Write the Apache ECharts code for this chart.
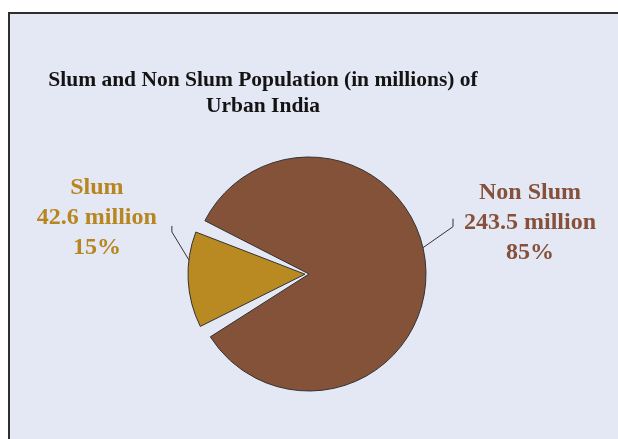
<!DOCTYPE html>
<html>
<head>
<meta charset="utf-8">
<script src="https://cdn.jsdelivr.net/npm/echarts@6/dist/echarts.min.js"></script>
<style>
html, body { margin: 0; padding: 0; background: #ffffff; }
#chart { width: 618px; height: 439px; }
</style>
</head>
<body>
<div id="chart"></div>
<script>
// data
const categories = ['Slum', 'Non Slum'];
const populations = [42.6, 243.5];
const sliceColors = ['#ba8a22', '#835238'];
const labelColors = ['#b8861e', '#86503a'];
const titleText = 'Slum and Non Slum Population (in millions) of\nUrban India';

const pieCenter = [309, 274];
const pieRadius = 117;
const startAngle = 209.5;
const explode = 4; // the Slum slice is pulled out a little

// leader line: start angle on the rim, first bend, short vertical tick, then text offset
const leaders = [
    { angle: 173, rOffset: 0, bend: [-17, -28], tick: -6, text: [-75, -8] },
    { angle: 13, rOffset: 0, bend: [30, -21], tick: -8, text: [77, 4] }
];

const total = populations.reduce(function (a, b) { return a + b; }, 0);
const slumMid = (startAngle - 180 * populations[0] / total) * Math.PI / 180;
const slumCenter = [pieCenter[0] + explode * Math.cos(slumMid), pieCenter[1] - explode * Math.sin(slumMid)];

function makePie(center, shownIndex) {
    return {
        type: 'pie',
        center: center,
        radius: pieRadius,
        startAngle: startAngle,
        clockwise: true,
        padAngle: 6,
        silent: true,
        emphasis: { disabled: true },
        label: {
            show: true,
            position: 'outside',
            fontFamily: 'Liberation Serif',
            fontWeight: 'bold',
            fontSize: 24,
            lineHeight: 30,
            align: 'center',
            formatter: function (p) {
                return p.name + '\n' + p.value + ' million\n' + Math.round(p.percent) + '%';
            }
        },
        labelLine: {
            show: true,
            length: 10,
            length2: 10,
            lineStyle: { color: '#333333', width: 1 }
        },
        labelLayout: function (params) {
            const g = leaders[params.dataIndex];
            const a = g.angle * Math.PI / 180;
            const r = pieRadius + g.rOffset;
            const p0 = [center[0] + r * Math.cos(a), center[1] - r * Math.sin(a)];
            const p1 = [p0[0] + g.bend[0], p0[1] + g.bend[1]];
            const p2 = [p1[0], p1[1] + g.tick];
            return {
                x: p2[0] + g.text[0],
                y: p2[1] + g.text[1],
                align: 'center',
                verticalAlign: 'middle',
                labelLinePoints: [p0, p1, p2]
            };
        },
        data: categories.map(function (name, i) {
            const shown = i === shownIndex;
            return {
                name: name,
                value: populations[i],
                itemStyle: shown
                    ? { color: sliceColors[i], borderColor: '#333333', borderWidth: 1 }
                    : { color: 'rgba(0,0,0,0)', borderWidth: 0 },
                label: { show: shown, color: labelColors[i] },
                labelLine: { show: shown }
            };
        })
    };
}

const chart = echarts.init(document.getElementById('chart'));

const option = {
    animation: false,
    backgroundColor: '#ffffff',
    graphic: [{
        type: 'rect',
        z: -10,
        shape: { x: 9, y: 13, width: 800, height: 600 },
        style: { fill: '#e4e8f4', stroke: '#2e2e2e', lineWidth: 2 }
    }],
    title: {
        text: titleText,
        left: 258,
        top: 62,
        textAlign: 'center',
        textStyle: {
            fontFamily: 'Liberation Serif',
            fontWeight: 'bold',
            fontSize: 21.5,
            lineHeight: 26,
            color: '#141414'
        }
    },
    series: [
        makePie(pieCenter, 1),
        makePie(slumCenter, 0)
    ]
};

chart.setOption(option);
</script>
</body>
</html>
